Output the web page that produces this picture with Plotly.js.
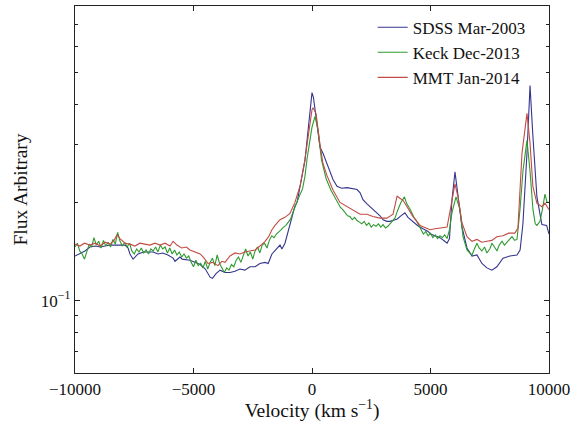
<!DOCTYPE html>
<html>
<head>
<meta charset="utf-8">
<script src="https://cdn.plot.ly/plotly-3.0.1.min.js"></script>
<style>html,body{margin:0;padding:0;background:#fff;}#chart{width:572px;height:422px;}</style>
</head>
<body>
<div id="chart"></div>
<script>
// ---- Data ----
const seriesNames = ["SDSS Mar-2003", "Keck Dec-2013", "MMT Jan-2014"];

const velSDSS = [-10000,-9780,-9580,-9370,-9150,-8940,-8730,-8520,-8230,-7890,-7760,-7680,-7550,-7340,-7100,-6920,-6700,-6500,-6300,-6080,-5860,-5780,-5570,-5480,-5150,-4940,-4720,-4500,-4300,-4200,-4050,-3880,-3670,-3460,-3250,-3040,-2830,-2620,-2400,-2200,-1980,-1850,-1690,-1350,-1270,-1140,-930,-720,-630,-510,-380,-300,-210,-84,0,60,169,250,338,464,630,760,886,1055,1250,1480,1700,1900,2030,2150,2320,2450,2600,2740,2870,3000,3160,3290,3420,3600,3710,3920,4050,4260,4450,4680,4900,5000,5200,5400,5600,5700,5800,5907,6033,6160,6330,6540,6750,6960,7170,7380,7590,7800,8060,8350,8650,8780,8900,9071,9200,9320,9490,9700,9900,10000];
const fluxSDSS = [0.137,0.140,0.142,0.146,0.147,0.146,0.147,0.148,0.148,0.148,0.145,0.139,0.134,0.139,0.141,0.141,0.141,0.139,0.140,0.138,0.135,0.132,0.136,0.134,0.133,0.131,0.129,0.125,0.118,0.117,0.121,0.124,0.122,0.122,0.123,0.125,0.124,0.127,0.127,0.130,0.131,0.130,0.139,0.148,0.144,0.150,0.172,0.195,0.200,0.225,0.250,0.268,0.310,0.380,0.434,0.420,0.360,0.325,0.295,0.283,0.262,0.246,0.235,0.224,0.221,0.222,0.221,0.219,0.214,0.204,0.198,0.194,0.190,0.186,0.182,0.177,0.175,0.175,0.176,0.178,0.181,0.186,0.180,0.175,0.170,0.166,0.163,0.160,0.158,0.156,0.152,0.150,0.155,0.204,0.248,0.206,0.168,0.145,0.137,0.138,0.130,0.126,0.124,0.127,0.135,0.137,0.138,0.143,0.172,0.283,0.456,0.320,0.208,0.171,0.170,0.160,0.158];

const velKeck = [-10000,-9900,-9800,-9700,-9600,-9500,-9400,-9300,-9200,-9100,-9000,-8900,-8800,-8700,-8600,-8500,-8400,-8300,-8200,-8100,-8000,-7900,-7800,-7700,-7600,-7500,-7400,-7300,-7200,-7100,-7000,-6900,-6800,-6700,-6600,-6500,-6400,-6300,-6200,-6100,-6000,-5900,-5800,-5700,-5600,-5500,-5400,-5300,-5200,-5100,-5000,-4900,-4800,-4700,-4600,-4500,-4400,-4300,-4200,-4100,-4000,-3900,-3800,-3700,-3600,-3500,-3400,-3300,-3200,-3100,-3000,-2900,-2800,-2700,-2600,-2500,-2400,-2300,-2200,-2100,-2000,-1900,-1800,-1700,-1600,-1500,-1400,-1300,-1200,-1100,-1000,-900,-800,-700,-600,-500,-400,-300,-200,-100,0,127,250,400,600,800,1000,1200,1300,1400,1500,1600,1700,1800,1900,2000,2100,2200,2300,2400,2500,2600,2700,2800,2900,3000,3100,3200,3300,3400,3500,3600,3750,3900,4000,4150,4300,4400,4500,4600,4700,4800,4900,5000,5100,5200,5300,5400,5500,5600,5700,5800,5907,6075,6244,6371,6540,6650,6750,6850,6960,7050,7170,7280,7380,7500,7594,7700,7805,7900,8016,8120,8227,8330,8438,8550,8649,8776,8902,9071,9198,9324,9420,9493,9620,9720,9830,9920,10000];
const fluxKeck = [0.146,0.150,0.142,0.139,0.134,0.142,0.149,0.146,0.156,0.148,0.152,0.145,0.153,0.147,0.151,0.146,0.154,0.149,0.162,0.152,0.147,0.151,0.146,0.150,0.142,0.139,0.144,0.141,0.145,0.140,0.143,0.139,0.144,0.142,0.146,0.141,0.148,0.144,0.146,0.140,0.145,0.139,0.143,0.138,0.141,0.136,0.139,0.135,0.137,0.131,0.127,0.133,0.128,0.130,0.126,0.132,0.125,0.131,0.135,0.128,0.138,0.130,0.126,0.122,0.126,0.124,0.129,0.127,0.133,0.136,0.131,0.138,0.144,0.137,0.141,0.134,0.142,0.146,0.140,0.148,0.150,0.145,0.153,0.158,0.156,0.160,0.162,0.165,0.168,0.170,0.174,0.178,0.187,0.196,0.205,0.212,0.220,0.240,0.275,0.310,0.340,0.367,0.335,0.270,0.236,0.218,0.205,0.193,0.190,0.186,0.182,0.181,0.177,0.180,0.176,0.174,0.172,0.175,0.170,0.173,0.168,0.171,0.169,0.172,0.168,0.171,0.167,0.169,0.172,0.176,0.179,0.188,0.200,0.208,0.198,0.190,0.180,0.176,0.170,0.164,0.160,0.163,0.158,0.161,0.156,0.159,0.155,0.158,0.156,0.159,0.155,0.165,0.186,0.208,0.190,0.157,0.143,0.140,0.138,0.144,0.150,0.145,0.142,0.146,0.140,0.144,0.150,0.146,0.142,0.148,0.152,0.148,0.151,0.155,0.157,0.153,0.154,0.190,0.250,0.310,0.250,0.190,0.172,0.170,0.175,0.190,0.212,0.200,0.200];

const velMMT = [-10000,-9800,-9600,-9370,-9150,-8940,-8730,-8520,-8350,-8230,-8100,-7890,-7680,-7470,-7260,-7050,-6840,-6630,-6410,-6200,-5990,-5860,-5700,-5500,-5300,-5150,-4940,-4720,-4550,-4390,-4200,-3970,-3800,-3670,-3460,-3250,-3040,-2830,-2620,-2400,-2200,-1980,-1830,-1690,-1560,-1350,-1140,-930,-720,-500,-300,-210,-84,0,40,170,340,460,630,890,1180,1480,1730,2030,2320,2570,2870,3160,3420,3590,3710,3840,4010,4260,4560,4850,4980,5200,5400,5700,5907,6033,6160,6330,6540,6750,6960,7170,7380,7590,7800,8060,8300,8560,8690,8860,9071,9200,9320,9490,9700,9830,10000];
const fluxMMT = [0.149,0.147,0.150,0.148,0.150,0.147,0.151,0.149,0.153,0.159,0.155,0.150,0.149,0.147,0.150,0.149,0.148,0.150,0.148,0.150,0.147,0.152,0.148,0.145,0.146,0.143,0.141,0.139,0.135,0.130,0.131,0.128,0.132,0.131,0.137,0.140,0.139,0.141,0.142,0.143,0.147,0.152,0.157,0.165,0.170,0.177,0.180,0.185,0.200,0.225,0.270,0.300,0.360,0.385,0.390,0.375,0.300,0.264,0.242,0.218,0.200,0.194,0.190,0.184,0.184,0.181,0.179,0.179,0.184,0.209,0.206,0.203,0.194,0.181,0.170,0.167,0.165,0.166,0.167,0.168,0.203,0.228,0.208,0.173,0.157,0.152,0.154,0.151,0.152,0.153,0.157,0.158,0.161,0.161,0.167,0.283,0.375,0.304,0.224,0.199,0.194,0.199,0.190];

const xTickVals = [-10000, -5000, 0, 5000, 10000];
const xTickText = ["\u221210000", "\u22125000", "0", "5000", "10000"];
const yTickVals = [0.1];
const yTickText = ["10<sup>\u22121</sup>"];
const yMinorVals = [0.07, 0.08, 0.09, 0.2, 0.3, 0.4, 0.5, 0.6, 0.7];

// ---- Styling ----
const colors = ["#35358f", "#2f9a2f", "#c24b44"];
const FONT = "Liberation Serif, Times New Roman, serif";

const traces = [
  {x: velSDSS, y: fluxSDSS, name: seriesNames[0], line: {color: colors[0], width: 1.1}},
  {x: velKeck, y: fluxKeck, name: seriesNames[1], line: {color: colors[1], width: 1.1}},
  {x: velMMT,  y: fluxMMT,  name: seriesNames[2], line: {color: colors[2], width: 1.1}}
].map(t => Object.assign({type: "scatter", mode: "lines", hoverinfo: "skip"}, t));

const layout = {
  width: 572, height: 422,
  margin: {l: 75, r: 23, t: 6, b: 49},
  paper_bgcolor: "#ffffff", plot_bgcolor: "#ffffff",
  font: {family: FONT, size: 17, color: "#111"},
  showlegend: true,
  legend: {x: 0.628, y: 0.99, xanchor: "left", yanchor: "top",
           bgcolor: "rgba(0,0,0,0)", borderwidth: 0, font: {size: 17, family: FONT},
           tracegroupgap: 0},
  xaxis: {
    range: [-10000, 10000], tickmode: "array", tickvals: xTickVals, ticktext: xTickText,
    ticks: "inside", ticklen: 5, tickwidth: 1, tickcolor: "#222",
    showline: true, linecolor: "#222", linewidth: 1.2, mirror: "ticks",
    showgrid: false, zeroline: false,
    title: {text: "Velocity (km s<sup>\u22121</sup>)", font: {size: 19.5, family: FONT}, standoff: 0}
  },
  yaxis: {
    type: "log", range: [Math.log10(0.06), Math.log10(0.8)],
    tickmode: "array", tickvals: yTickVals, ticktext: yTickText,
    ticks: "inside", ticklen: 5, tickwidth: 1, tickcolor: "#222",
    minor: {tickmode: "array", tickvals: yMinorVals, ticks: "inside", ticklen: 3, tickwidth: 1, tickcolor: "#222", showgrid: false},
    showline: true, linecolor: "#222", linewidth: 1.2, mirror: "ticks",
    showgrid: false, zeroline: false,
    title: {text: "Flux Arbitrary", font: {size: 19.5, family: FONT}, standoff: 8}
  }
};

Plotly.newPlot("chart", traces, layout, {displayModeBar: false, staticPlot: true});
</script>
</body>
</html>
